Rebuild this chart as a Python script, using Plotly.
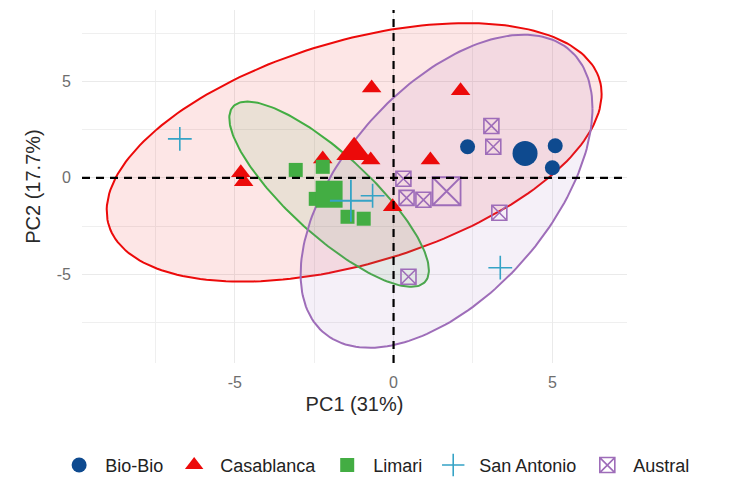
import numpy as np
import plotly.graph_objects as go

# ---------------- data ----------------
groups = ["Bio-Bio", "Casablanca", "Limari", "San Antonio", "Austral"]

biobio_pc1 = [2.33, 5.09, 5.00]
biobio_pc2 = [1.61, 1.66, 0.52]

casablanca_pc1 = [-0.69, 2.11, -4.81, -4.72, -0.72, 1.16, -0.03, -2.23]
casablanca_pc2 = [4.66, 4.51, 0.26, -0.21, 0.93, 0.93, -1.50, 0.98]

limari_pc1 = [-3.08, -2.23, -2.45, -1.45, -0.94]
limari_pc2 = [0.41, 0.57, -1.09, -2.02, -2.12]

sanantonio_pc1 = [-6.73, 3.36, -0.66]
sanantonio_pc2 = [2.02, -4.66, -0.93]

austral_pc1 = [3.08, 3.14, 0.31, 0.41, 0.94, 3.33, 0.47]
austral_pc2 = [2.69, 1.61, -0.05, -1.04, -1.14, -1.81, -5.13]

pc1_data = [biobio_pc1, casablanca_pc1, limari_pc1, sanantonio_pc1, austral_pc1]
pc2_data = [biobio_pc2, casablanca_pc2, limari_pc2, sanantonio_pc2, austral_pc2]

colors = ["#0E4A8F", "#EC0A0A", "#43AD43", "#35A3C6", "#9E6DB9"]
fills = ["rgba(14,74,143,0.10)", "rgba(236,10,10,0.10)", "rgba(67,173,67,0.10)",
         "rgba(53,163,198,0.10)", "rgba(158,109,185,0.10)"]
symbols = ["circle", "triangle-up", "square", "cross-thin-open", "square-x-open"]
pt_sizes = [15, 17, 14, 17, 15]
mean_sizes = [25, 31, 27, 30, 28]
with_ellipse = [False, True, True, False, True]


def conf_ellipse(x, y, level=0.95, npts=200):
    x = np.asarray(x, float)
    y = np.asarray(y, float)
    n = len(x)
    center = np.array([x.mean(), y.mean()])
    cov = np.cov(np.vstack([x, y]))
    d = n - 1
    fq = (d / 2.0) * ((1 - level) ** (-2.0 / d) - 1)  # qf(level, 2, d)
    radius = np.sqrt(2 * fq)
    chol = np.linalg.cholesky(cov)
    t = np.linspace(0, 2 * np.pi, npts)
    unit = np.vstack([np.cos(t), np.sin(t)])
    pts = center[:, None] + radius * chol @ unit
    return pts[0], pts[1]


fig = go.Figure()

# ellipses
for g, xs, ys, c, f, e in zip(groups, pc1_data, pc2_data, colors, fills, with_ellipse):
    if not e:
        continue
    ex, ey = conf_ellipse(xs, ys)
    fig.add_trace(go.Scatter(x=ex, y=ey, mode="lines", fill="toself", fillcolor=f,
                             line=dict(color=c, width=2), showlegend=False,
                             hoverinfo="skip", legendgroup=g))

# points
for g, xs, ys, c, s, ps in zip(groups, pc1_data, pc2_data, colors, symbols, pt_sizes):
    open_sym = s.endswith("open")
    fig.add_trace(go.Scatter(
        x=xs, y=ys, mode="markers", name=g, legendgroup=g,
        marker=dict(symbol=s, size=ps, color=c,
                    line=dict(color=c, width=1.6 if open_sym else 0))))

# group means (larger markers)
for g, xs, ys, c, s, ms in zip(groups, pc1_data, pc2_data, colors, symbols, mean_sizes):
    open_sym = s.endswith("open")
    fig.add_trace(go.Scatter(
        x=[float(np.mean(xs))], y=[float(np.mean(ys))], mode="markers",
        legendgroup=g, showlegend=False,
        marker=dict(symbol=s, size=ms, color=c,
                    line=dict(color=c, width=1.8 if open_sym else 0))))

# reference dashed lines
dash = dict(color="black", width=2.2, dash="8px,6px")
fig.add_shape(type="line", xref="x", yref="paper", x0=0, x1=0, y0=0, y1=1,
              line=dash, layer="above")
fig.add_shape(type="line", xref="paper", yref="y", x0=0, x1=1, y0=0, y1=0,
              line=dash, layer="above")

axis_common = dict(
    showline=False, zeroline=False, ticks="", showgrid=True,
    gridcolor="#EAEAEA", gridwidth=1.2,
    tickfont=dict(size=16, color="#6E6E6E"),
)

fig.update_layout(
    width=734, height=490,
    margin=dict(l=82, r=107, t=10, b=127, autoexpand=False),
    plot_bgcolor="white", paper_bgcolor="white",
    font=dict(family="Liberation Sans, Arial, sans-serif", color="#333333"),
    xaxis=dict(range=[-9.81, 7.35], tickvals=[-5, 0, 5], ticktext=["-5", "0", "5"],
               minor=dict(tickvals=[-7.5, -2.5, 2.5], showgrid=True,
                          gridcolor="#EFEFEF", gridwidth=1),
               title=dict(text="PC1 (31%)", font=dict(size=20, color="#2A2A2A"), standoff=6),
               ticklabelstandoff=8, **axis_common),
    yaxis=dict(range=[-9.6, 8.7], tickvals=[-5, 0, 5], ticktext=["-5", "0", "5"],
               minor=dict(tickvals=[-7.5, -2.5, 2.5, 7.5], showgrid=True,
                          gridcolor="#EFEFEF", gridwidth=1),
               title=dict(text="PC2 (17.7%)", font=dict(size=20, color="#2A2A2A"), standoff=10),
               ticklabelstandoff=10, **axis_common),
    legend=dict(orientation="h", xref="paper", yref="paper",
                x=1.125, xanchor="right", y=-0.29, yanchor="middle",
                font=dict(size=18, color="#222222"), itemsizing="trace",
                itemwidth=42, tracegroupgap=0),
)

fig.write_html("out.html")
